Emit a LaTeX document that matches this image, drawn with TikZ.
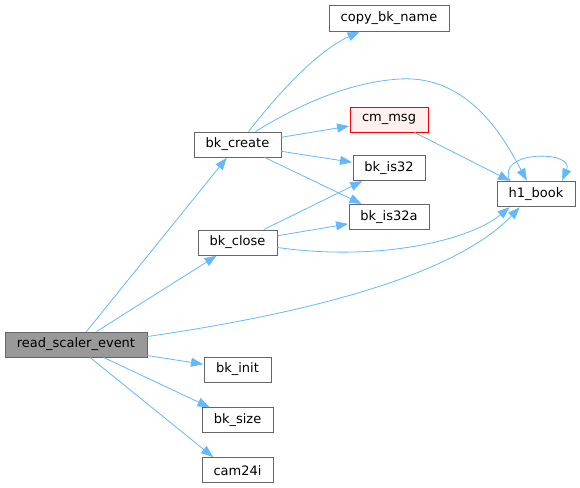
\documentclass[tikz,border=0pt]{standalone}
\usepackage{fontspec}
\usepackage{tikz}
\usetikzlibrary{arrows.meta,positioning}
\newfontfamily\dvs{DejaVu Sans}
\definecolor{edgeBlue}{HTML}{63B8FF}
\definecolor{nodeGrey}{HTML}{666666}
\definecolor{rootGrey}{HTML}{999999}
\definecolor{warnRed}{HTML}{FF0000}
\definecolor{warnFill}{HTML}{FFF0F0}

\begin{document}
\begin{tikzpicture}[x=1pt,y=-1pt,
  fn/.style={draw=nodeGrey,line width=0.9pt,minimum height=25pt,inner sep=0pt,font=\dvs\fontsize{13pt}{15pt}\selectfont},
  arrow/.style={-{Triangle[length=12pt,width=9pt]},draw=edgeBlue,fill=none,line width=0.8pt,shorten >=0.5pt}
]
\useasboundingbox (0,0) rectangle (580,487);
\node[fn,fill=rootGrey,minimum width=142pt] (rse) at (76,344.5) {read\_scaler\_event};
\node[fn,minimum width=87pt] (create) at (237.5,144.5) {bk\_create};
\node[fn,minimum width=79pt] (close) at (237.5,242.5) {bk\_close};
\node[fn,minimum width=67pt] (init) at (237.5,369.5) {bk\_init};
\node[fn,minimum width=71pt,below=25pt of init] (size) {bk\_size};
\node[fn,minimum width=71pt,below=24pt of size] (cam) {cam24i};
\node[fn,minimum width=120pt,minimum height=26pt] (copy) at (389,18) {copy\_bk\_name};
\node[fn,draw=warnRed,fill=warnFill,minimum width=78pt] (msg) at (389,119.5) {cm\_msg};
\node[fn,minimum width=72pt] (is32) at (389,168) {bk\_is32};
\node[fn,minimum width=80pt] (is32a) at (389,217) {bk\_is32a};
\node[fn,minimum width=78pt] (book) at (536,194) {h1\_book};

% calls from read_scaler_event
\draw[arrow] (rse) -- (create);
\draw[arrow] (rse) -- (close);
\draw[arrow] (rse) -- (init);
\draw[arrow] (rse) -- (size);
\draw[arrow] ([xshift=14pt]rse.south) -- ([xshift=-24pt]cam.north);
\draw[arrow] ([yshift=8pt]rse.east) .. controls (330,310) and (460,270) .. ([xshift=-16pt]book.south);

% calls from bk_create
\draw[arrow] ([xshift=11pt]create.north) .. controls (285,85) and (320,50) .. ([xshift=-29pt]copy.south);
\draw[arrow] ([xshift=18pt]create.north) .. controls (300,104) and (350,82) .. (400,79)
  .. controls (470,75) and (505,140) .. ([xshift=-9pt]book.north);
\draw[arrow] (create) -- (msg);
\draw[arrow] (create) -- (is32);
\draw[arrow] (create) -- (is32a);

% calls from bk_close
\draw[arrow] (close) -- (is32);
\draw[arrow] (close) -- (is32a);
\draw[arrow] ([yshift=-5pt]close.east) .. controls (380,262) and (470,240) .. ([xshift=-26pt]book.south);

% calls from cm_msg and h1_book
\draw[arrow] (msg) -- (book);
\draw[arrow] ([xshift=-26pt]book.north) .. controls (495,150) and (575,150) .. ([xshift=26pt]book.north);
\end{tikzpicture}
\end{document}
